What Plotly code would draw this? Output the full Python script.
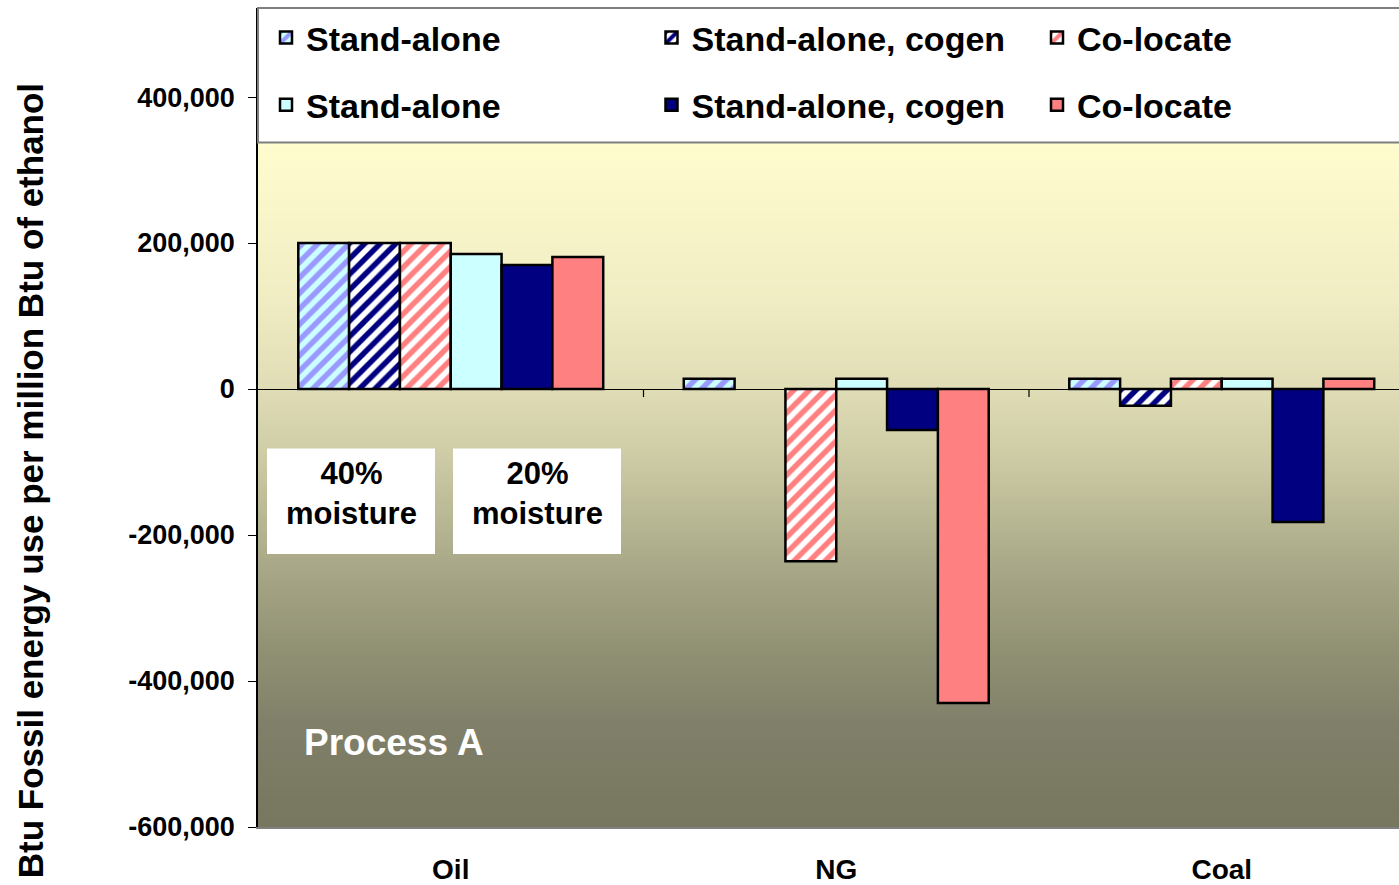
import plotly.graph_objects as go

# ---------------- data ----------------
categories = ["Oil", "NG", "Coal"]
series_names = ["Stand-alone", "Stand-alone, cogen", "Co-locate",
                "Stand-alone", "Stand-alone, cogen", "Co-locate"]
sa_hatched = [200000, 14000, 14000]
cogen_hatched = [200000, None, -23000]
coloc_hatched = [200000, -236000, 14000]
sa_solid = [185000, 14000, 14000]
cogen_solid = [170000, -56000, -182000]
coloc_solid = [181000, -430000, 14000]
y_ticks = [-600000, -400000, -200000, 0, 200000, 400000]
y_ticktext = [f"{v:,}" for v in y_ticks]

# ---------------- layout constants ----------------
W, H = 1399, 885
ML, MR, MT, MB = 258, 0, 8, 55
PW, PH = W - ML - MR, H - MT - MB
FONT = "Liberation Sans, Arial, sans-serif"


def px_x(px):
    return (px - ML) / PW


def px_y(py):
    return (H - MB - py) / PH


def hatch(bg, fg):
    return dict(shape="/", bgcolor=bg, fgcolor=fg, fgopacity=1, fillmode="replace",
                size=11, solidity=0.5)


styles = [
    dict(color="#CCFFFF", pattern=hatch("#CCFFFF", "#9999FF")),
    dict(color="#FFFFFF", pattern=hatch("#FFFFFF", "#000080")),
    dict(color="#FFFFFF", pattern=hatch("#FFFFFF", "#FF8080")),
    dict(color="#CCFFFF"),
    dict(color="#000080"),
    dict(color="#FF8080"),
]
values = [sa_hatched, cogen_hatched, coloc_hatched, sa_solid, cogen_solid, coloc_solid]
legend_ids = ["legend", "legend2", "legend3", "legend", "legend2", "legend3"]

fig = go.Figure()
for i, (name, vals, st) in enumerate(zip(series_names, values, styles)):
    marker = dict(color=st["color"], line=dict(color="black", width=2.5))
    if "pattern" in st:
        marker["pattern"] = st["pattern"]
    fig.add_trace(go.Bar(
        x=categories, y=vals, name=name, marker=marker,
        legend=legend_ids[i], legendgroup=f"g{i}",
    ))

# ---------------- background gradient ----------------
stops = [
    (8, (255, 253, 210)),
    (143, (255, 252, 206)),
    (300, (240, 237, 196)),
    (390, (224, 221, 182)),
    (450, (208, 206, 167)),
    (560, (171, 171, 138)),
    (650, (145, 145, 116)),
    (728, (128, 128, 106)),
    (830, (119, 119, 95)),
]


def color_at(py):
    for (a, ca), (b, cb) in zip(stops[:-1], stops[1:]):
        if a <= py <= b:
            t = (py - a) / (b - a)
            return tuple(round(ca[k] + (cb[k] - ca[k]) * t) for k in range(3))
    return stops[-1][1]


shapes = []
step = 4
py = MT
while py < H - MB:
    c = color_at(py + step / 2)
    shapes.append(dict(type="rect", xref="paper", yref="paper",
                       x0=0, x1=1, y0=px_y(min(py + step + 2, H - MB)), y1=px_y(py),
                       fillcolor=f"rgb{c}", line=dict(width=0), layer="below"))
    py += step

# category tick marks on the zero line
for xv in [0.5, 1.5]:
    shapes.append(dict(type="line", xref="x", yref="y", x0=xv, x1=xv, y0=0, y1=-11000,
                       line=dict(color="black", width=1.2)))

# legend box
shapes.append(dict(type="rect", xref="paper", yref="paper",
                   x0=0, x1=1.01, y0=px_y(143), y1=px_y(8),
                   fillcolor="white", line=dict(color="#7F7F7F", width=2), layer="above"))

# moisture label boxes
for x0, x1 in [(267, 435), (453, 621)]:
    shapes.append(dict(type="rect", xref="paper", yref="paper",
                       x0=px_x(x0), x1=px_x(x1), y0=px_y(556), y1=px_y(450),
                       fillcolor="white", line=dict(width=0), layer="above"))

annotations = [
    dict(text="<b>40%<br>moisture</b>", xref="paper", yref="paper", x=px_x(351), y=px_y(495),
         xanchor="center", yanchor="middle", showarrow=False,
         font=dict(family=FONT, size=31, color="black")),
    dict(text="<b>20%<br>moisture</b>", xref="paper", yref="paper", x=px_x(537), y=px_y(495),
         xanchor="center", yanchor="middle", showarrow=False,
         font=dict(family=FONT, size=31, color="black")),
    dict(text="<b>Process A</b>", xref="paper", yref="paper", x=px_x(302), y=px_y(745),
         xanchor="left", yanchor="middle", showarrow=False,
         font=dict(family=FONT, size=37, color="white")),
    dict(text="<b>Btu Fossil energy use per million Btu of ethanol</b>", xref="paper", yref="paper",
         x=px_x(30), y=px_y(483), xanchor="center", yanchor="middle", textangle=-90,
         showarrow=False, font=dict(family=FONT, size=35, color="black")),
]

legend_common = dict(orientation="v", bgcolor="rgba(0,0,0,0)", borderwidth=0,
                     font=dict(family=FONT, size=34, color="black", weight="bold"),
                     tracegroupgap=20, yanchor="top", xanchor="left", y=px_y(9))

fig.update_layout(
    width=W, height=H,
    margin=dict(l=ML, r=MR, t=MT, b=MB),
    paper_bgcolor="white", plot_bgcolor="rgba(0,0,0,0)",
    barmode="group", bargap=0.209, bargroupgap=0,
    shapes=shapes, annotations=annotations,
    legend=dict(x=px_x(266), **legend_common),
    legend2=dict(x=px_x(651.5), **legend_common),
    legend3=dict(x=px_x(1037), **legend_common),
    xaxis=dict(range=[-0.5, -0.5 + PW / 385.5], showgrid=False, showline=True,
               linecolor="#808080", linewidth=2, ticks="", ticklabelstandoff=16,
               tickfont=dict(family=FONT, size=28, color="black", weight="bold"), fixedrange=True),
    yaxis=dict(range=[-600000, 522000], tickvals=y_ticks, ticktext=y_ticktext, showgrid=False,
               showline=True, linecolor="black", linewidth=1.5, ticks="outside", ticklen=8,
               tickcolor="black", zeroline=True, zerolinecolor="black", zerolinewidth=1.2,
               ticklabelstandoff=8,
               tickfont=dict(family=FONT, size=27, color="black", weight="bold")),
)

fig.write_html("out.html", config={"displayModeBar": False},
               post_script="document.body.style.margin='0';document.body.style.padding='0';")
